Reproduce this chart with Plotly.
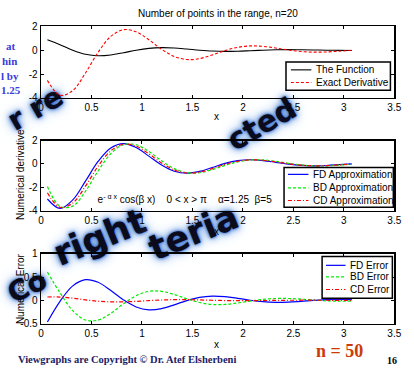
import math
import plotly.graph_objects as go

# ---------------- data ----------------
x = [0.063, 0.188, 0.314, 0.440, 0.565, 0.691, 0.817, 0.942, 1.068, 1.194,
     1.319, 1.445, 1.571, 1.696, 1.822, 1.948, 2.073, 2.199, 2.325, 2.450,
     2.576, 2.702, 2.827, 2.953, 3.079]
func = [0.879, 0.464, 0.0, -0.339, -0.469, -0.401, -0.212, 0.0, 0.155, 0.214,
        0.183, 0.097, 0.0, -0.071, -0.097, -0.083, -0.044, 0.0, 0.032, 0.044,
        0.038, 0.020, 0.0, -0.015, -0.020]
exact = [-2.528, -3.777, -3.376, -1.910, -0.176, 1.152, 1.722, 1.539, 0.871, 0.080,
         -0.525, -0.785, -0.702, -0.397, -0.036, 0.239, 0.358, 0.320, 0.181, 0.017,
         -0.109, -0.163, -0.146, -0.082, -0.008]
fd_approx = [-2.991, -3.797, -3.066, -1.466, 0.211, 1.363, 1.731, 1.397, 0.668, -0.097,
             -0.621, -0.789, -0.637, -0.305, 0.044, 0.283, 0.360, 0.291, 0.139, -0.020,
             -0.129, -0.164, -0.132, -0.063, 0.009]
bd_approx = [-1.921, -3.615, -3.596, -2.332, -0.599, 0.875, 1.648, 1.639, 1.064, 0.273,
             -0.399, -0.751, -0.748, -0.485, -0.124, 0.182, 0.343, 0.341, 0.221, 0.057,
             -0.083, -0.156, -0.156, -0.100, -0.026]
cd_approx = [-2.456, -3.706, -3.331, -1.899, -0.194, 1.119, 1.690, 1.518, 0.866, 0.088,
             -0.510, -0.770, -0.693, -0.395, -0.040, 0.232, 0.351, 0.316, 0.180, 0.019,
             -0.106, -0.160, -0.144, -0.081, -0.009]
fd_err = [-0.463, -0.020, 0.310, 0.444, 0.387, 0.211, 0.009, -0.142, -0.203, -0.177,
          -0.096, -0.004, 0.065, 0.092, 0.080, 0.044, 0.002, -0.029, -0.042, -0.037,
          -0.020, -0.001, 0.014, 0.019, 0.017]
bd_err = [0.607, 0.162, -0.220, -0.422, -0.423, -0.277, -0.074, 0.100, 0.193, 0.193,
          0.126, 0.034, -0.046, -0.088, -0.088, -0.057, -0.015, 0.021, 0.040, 0.040,
          0.026, 0.007, -0.010, -0.018, -0.018]
cd_err = [0.072, 0.071, 0.045, 0.011, -0.018, -0.033, -0.032, -0.021, -0.005, 0.008,
          0.015, 0.015, 0.009, 0.002, -0.004, -0.007, -0.007, -0.004, -0.001, 0.002,
          0.003, 0.003, 0.002, 0.001, -0.001]

names1 = ["The Function", "Exact Derivative"]
names2 = ["FD Approximation", "BD Approximation", "CD Approximation"]
names3 = ["FD Error", "BD Error", "CD Error"]

x_ticks = [0, 0.5, 1, 1.5, 2, 2.5, 3, 3.5]
x_ticktext = ["0", "0.5", "1", "1.5", "2", "2.5", "3", "3.5"]
y1_ticks = [-4, -2, 0, 2]
y1_ticktext = ["-4", "-2", "0", "2"]
y3_ticks = [-0.5, 0, 0.5, 1]
y3_ticktext = ["-0.5", "0", "0.5", "1"]

W, H = 414, 371
SANS = "Liberation Sans, Arial, Helvetica, sans-serif"
SERIF = "Liberation Serif, Times New Roman, serif"
WMFONT = "DejaVu Sans, Liberation Sans, sans-serif"

def px(v):
    return v / W

def py(v):
    return 1 - v / H

BLACK = dict(color="black", width=1.1)
RED_D = dict(color="#ff0000", width=1.1, dash="3px,2px")
BLUE = dict(color="#0000ff", width=1.2)
GREEN_D = dict(color="#00ee00", width=1.2, dash="3px,2px")
RED_DD = dict(color="#ff0000", width=1.2, dash="4px,2px,1px,2px")

fig = go.Figure()
line_kw = dict(mode="lines", line_shape="spline", showlegend=False, hoverinfo="skip")
series = [
    (func, names1[0], BLACK, 1), (exact, names1[1], RED_D, 1),
    (fd_approx, names2[0], BLUE, 2), (bd_approx, names2[1], GREEN_D, 2), (cd_approx, names2[2], RED_DD, 2),
    (fd_err, names3[0], BLUE, 3), (bd_err, names3[1], GREEN_D, 3), (cd_err, names3[2], RED_DD, 3),
]
for yv, nm, ln, k in series:
    sfx = "" if k == 1 else str(k)
    fig.add_trace(go.Scatter(x=x, y=yv, name=nm, xaxis="x" + sfx, yaxis="y" + sfx, line=ln, **line_kw))

fig.add_trace(go.Scatter(x=[0.56], y=[-3.15], mode="text", xaxis="x2", yaxis="y2",
                         text=["e<sup>- α x</sup> cos(β x)&nbsp;&nbsp;&nbsp;&nbsp;0 &lt; x &gt; π&nbsp;&nbsp;&nbsp;&nbsp;α=1.25&nbsp;&nbsp;β=5"],
                         textposition="middle right", textfont=dict(size=10, family=SANS, color="black"),
                         showlegend=False, hoverinfo="skip", cliponaxis=False))

# plot-area boxes in pixels (left, top, right, bottom)
boxes = {1: (39, 21, 401, 95), 2: (39, 139, 401, 211.7), 3: (39, 256, 401, 328.3)}
yranges = {1: [-4, 2], 2: [-4, 2], 3: [-0.5, 1]}
yt = {1: (y1_ticks, y1_ticktext), 2: (y1_ticks, y1_ticktext), 3: (y3_ticks, y3_ticktext)}

axis_common = dict(showline=True, linecolor="black", linewidth=1.5, mirror="ticks",
                   ticks="inside", ticklen=3, tickwidth=1, tickcolor="black",
                   showgrid=False, zeroline=False,
                   tickfont=dict(size=10, family=SANS, color="black"))

layout = dict(width=W, height=H, margin=dict(l=0, r=0, t=0, b=0),
              paper_bgcolor="white", plot_bgcolor="white", showlegend=False)
for k in (1, 2, 3):
    sfx = "" if k == 1 else str(k)
    l, t, r, b = boxes[k]
    layout["xaxis" + sfx] = dict(domain=[px(l), px(r)], range=[0, 3.5], anchor="y" + sfx,
                                 tickvals=x_ticks, ticktext=x_ticktext, **axis_common)
    layout["yaxis" + sfx] = dict(domain=[py(b), py(t)], range=yranges[k], anchor="x" + sfx,
                                 tickvals=yt[k][0], ticktext=yt[k][1], **axis_common)
fig.update_layout(**layout)

# ---------------- texts ----------------
def note(text, xp, yp, size, family, color, xanchor="center", angle=0):
    return dict(text=text, x=px(xp), y=py(yp), xref="paper", yref="paper", showarrow=False,
                xanchor=xanchor, yanchor="middle", textangle=angle,
                font=dict(size=size, family=family, color=color))

ann = [note("Number of points in the range, n=20", 220, 8, 10, SANS, "black")]
# axis titles
for yc in (114, 233, 350):
    ann.append(note("x", 219, yc, 10, SANS, "black"))
ann.append(note("Numerical derivative", 18, 174, 10, SANS, "black", angle=-90))
ann.append(note("Numerical Error", 18, 292, 10, SANS, "black", angle=-90))

side_lines = [("at", 15, 41), ("hin", 16, 57), ("l by", 18, 72), ("1.25", 21, 87)]
for t, xr, yc in side_lines:
    ann.append(note(f"<b>{t}</b>", xr, yc, 11, SERIF, "#3b3bdc", xanchor="right"))
ann.append(note("<b>Viewgraphs are Copyright © Dr. Atef Elsherbeni</b>", 13, 365, 10.5, SERIF, "#1c1c66", "left"))
ann.append(note("<b>n = 50</b>", 345, 357, 18, SERIF, "#cc3a0a"))
ann.append(note("<b>16</b>", 399, 366, 10, SERIF, "black"))

# ---------------- watermark fragments (visible in the gaps) ----------------
# (text, centre px, angle deg counter-clockwise, font size)
wm = [("r re", (32, 104), 30, 29),
      ("cted", (264, 120), 30, 30),
      ("Co", (24, 288), 25, 28),
      ("right", (98, 236), 22, 35),
      ("teria", (194, 231), 22, 35)]
shadow = "0 0 2px #1d4fb0, 0 0 5px #3a72d0, 0 0 9px #6f9fe0, 0 0 15px #a8c8ee"
shapes = []
for t, (cx, cy), ang, s in wm:
    dx, dy = 10 * math.cos(math.radians(ang)), 10 * math.sin(math.radians(ang))
    base = dict(type="line", xref="paper", yref="paper", layer="below",
                x0=px(cx - dx), y0=py(cy + dy), x1=px(cx + dx), y1=py(cy - dy),
                line=dict(color="rgba(0,0,0,0)", width=0))
    lab = dict(text=f"<b>{t}</b>", textposition="middle", xanchor="center", yanchor="middle",
               textangle=-ang)
    try:
        sh = go.layout.Shape(**base, label=dict(**lab, font=dict(size=s, family=WMFONT, color="#0b0b1c",
                                                                 shadow=shadow)))
    except Exception:
        sh = go.layout.Shape(**base, label=dict(**lab, font=dict(size=s, family=WMFONT, color="#1d3f8a")))
    shapes.append(sh)

# ---------------- legends (MATLAB style, compact) ----------------
legends = [
    ((290, 58, 397, 87), [66, 79], (295, 316, 319), names1, [BLACK, RED_D]),
    ((288, 167, 400, 208), [174, 188, 201], (292, 313, 316), names2, [BLUE, GREEN_D, RED_DD]),
    ((327, 259, 399, 302), [268, 280, 293], (331, 351, 354), names3, [BLUE, GREEN_D, RED_DD]),
]
for (l, t, r, b), rows, (lx0, lx1, tx), nms, styles in legends:
    shapes.append(dict(type="rect", xref="paper", yref="paper", layer="above",
                       x0=px(l), x1=px(r), y0=py(b), y1=py(t),
                       fillcolor="white", line=dict(color="black", width=1.5)))
    for yr, nm, st in zip(rows, nms, styles):
        shapes.append(dict(type="line", xref="paper", yref="paper", layer="above",
                           x0=px(lx0), x1=px(lx1), y0=py(yr), y1=py(yr),
                           line=dict(color=st["color"], width=st["width"], dash=st.get("dash", "solid"))))
        ann.append(note(nm, tx, yr, 10, SANS, "black", "left"))

fig.update_layout(shapes=shapes, annotations=ann)

fig.write_html("out.html", config=dict(displayModeBar=False, staticPlot=True),
               post_script="document.body.style.margin='0';document.body.style.overflow='hidden';")
